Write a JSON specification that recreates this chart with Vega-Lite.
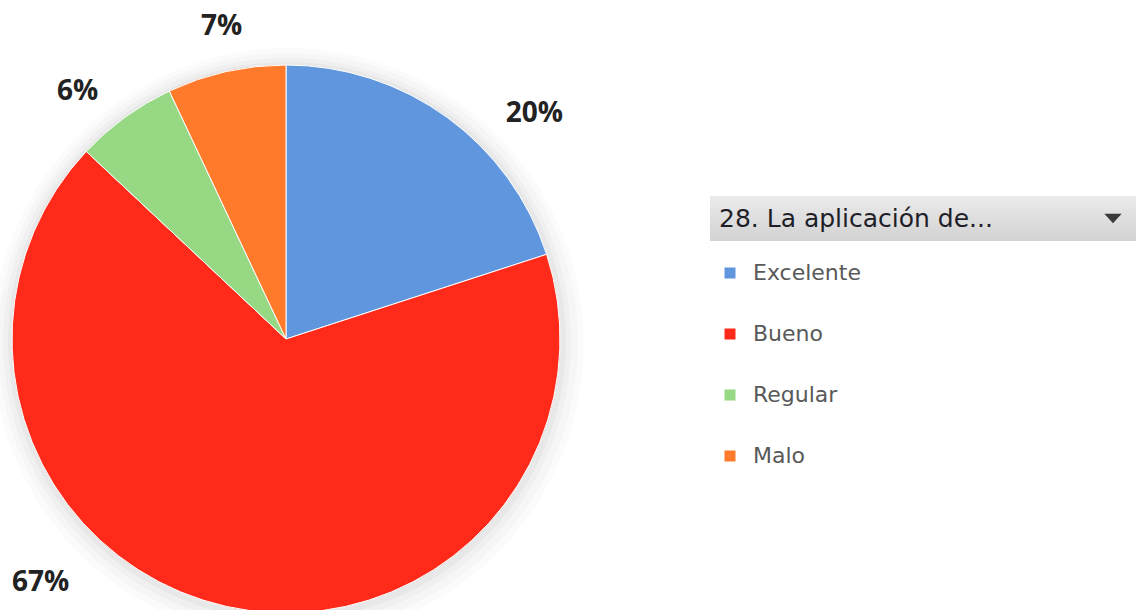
{
  "$schema": "https://vega.github.io/schema/vega-lite/v6.json",
  "width": 1136,
  "height": 610,
  "padding": 0,
  "autosize": {"type": "none"},
  "background": "white",
  "config": {"view": {"stroke": null}, "font": "DejaVu Sans"},
  "data": {
    "values": [
      {"categoria": "Excelente", "porcentaje": 20, "orden": 1},
      {"categoria": "Bueno", "porcentaje": 67, "orden": 2},
      {"categoria": "Regular", "porcentaje": 6, "orden": 3},
      {"categoria": "Malo", "porcentaje": 7, "orden": 4}
    ]
  },
  "layer": [
    {
      "data": {"values": [{"k": 1}]},
      "mark": {
        "type": "rect", "x": 710, "x2": 1136, "y": 196, "y2": 241,
        "fill": {"x1": 0, "y1": 0, "x2": 0, "y2": 1, "gradient": "linear",
          "stops": [{"offset": 0, "color": "#ebebeb"}, {"offset": 1, "color": "#d2d2d2"}]}
      },
      "encoding": {}
    },
    {
      "data": {"values": [{"k": 1}]},
      "mark": {"type": "point", "x": 1113, "y": 218, "shape": "M-1,-0.5L1,-0.5L0,0.6Z", "size": 300, "filled": true, "fill": "#3a3a3a", "strokeWidth": 0, "opacity": 1},
      "encoding": {}
    },
    {
      "data": {"values": [{"k": 1}]},
      "mark": {"type": "arc", "x": 288, "y": 344, "theta": 0, "theta2": 6.2832, "outerRadius": 296, "fill": "#000000", "opacity": 0.015},
      "encoding": {}
    },
    {
      "data": {"values": [{"k": 1}]},
      "mark": {"type": "arc", "x": 288, "y": 343, "theta": 0, "theta2": 6.2832, "outerRadius": 290, "fill": "#000000", "opacity": 0.02},
      "encoding": {}
    },
    {
      "data": {"values": [{"k": 1}]},
      "mark": {"type": "arc", "x": 287, "y": 342, "theta": 0, "theta2": 6.2832, "outerRadius": 284, "fill": "#000000", "opacity": 0.025},
      "encoding": {}
    },
    {
      "data": {"values": [{"k": 1}]},
      "mark": {"type": "arc", "x": 287, "y": 341, "theta": 0, "theta2": 6.2832, "outerRadius": 279, "fill": "#000000", "opacity": 0.03},
      "encoding": {}
    },
    {
      "mark": {"type": "arc", "x": 286, "y": 339, "outerRadius": 274, "stroke": "white", "strokeWidth": 1},
      "encoding": {
        "theta": {"field": "porcentaje", "type": "quantitative", "stack": true},
        "order": {"field": "orden", "type": "quantitative"},
        "color": {
          "field": "categoria", "type": "nominal",
          "sort": ["Excelente", "Bueno", "Regular", "Malo"],
          "scale": {"domain": ["Excelente", "Bueno", "Regular", "Malo"], "range": ["#5f96de", "#ff2a1a", "#97d884", "#ff7a2a"]},
          "legend": {
            "orient": "none", "legendX": 719, "legendY": 207,
            "title": "28. La aplicación de...",
            "titleFontSize": 25, "titleFontWeight": "normal", "titleColor": "#1e1e28", "titleLimit": 420, "titlePadding": 30,
            "labelFontSize": 22, "labelColor": "#595959", "labelOffset": 12,
            "symbolType": "square", "symbolSize": 121, "symbolStrokeWidth": 0, "symbolOpacity": 1,
            "rowPadding": 39, "padding": 0
          }
        }
      }
    },
    {
      "transform": [{"calculate": "datum.porcentaje + '%'", "as": "etiqueta"}],
      "mark": {"type": "text", "x": 286, "y": 339, "radius": 300, "dx": 72, "dy": 18, "fontSize": 28, "fontWeight": "bold", "font": "Open Sans", "color": "#222222", "align": "center", "baseline": "middle"},
      "encoding": {
        "theta": {"field": "porcentaje", "type": "quantitative", "stack": true},
        "order": {"field": "orden", "type": "quantitative"},
        "text": {"field": "etiqueta"},
        "opacity": {"condition": {"test": "datum.categoria === 'Excelente'", "value": 1}, "value": 0}
      }
    },
    {
      "transform": [{"calculate": "datum.porcentaje + '%'", "as": "etiqueta"}],
      "mark": {"type": "text", "x": 286, "y": 339, "radius": 300, "dx": -180, "dy": -49, "fontSize": 28, "fontWeight": "bold", "font": "Open Sans", "color": "#222222", "align": "center", "baseline": "middle"},
      "encoding": {
        "theta": {"field": "porcentaje", "type": "quantitative", "stack": true},
        "order": {"field": "orden", "type": "quantitative"},
        "text": {"field": "etiqueta"},
        "opacity": {"condition": {"test": "datum.categoria === 'Bueno'", "value": 1}, "value": 0}
      }
    },
    {
      "transform": [{"calculate": "datum.porcentaje + '%'", "as": "etiqueta"}],
      "mark": {"type": "text", "x": 286, "y": 339, "radius": 300, "dx": -32, "dy": -4, "fontSize": 28, "fontWeight": "bold", "font": "Open Sans", "color": "#222222", "align": "center", "baseline": "middle"},
      "encoding": {
        "theta": {"field": "porcentaje", "type": "quantitative", "stack": true},
        "order": {"field": "orden", "type": "quantitative"},
        "text": {"field": "etiqueta"},
        "opacity": {"condition": {"test": "datum.categoria === 'Regular'", "value": 1}, "value": 0}
      }
    },
    {
      "transform": [{"calculate": "datum.porcentaje + '%'", "as": "etiqueta"}],
      "mark": {"type": "text", "x": 286, "y": 339, "radius": 300, "dx": 1, "dy": -19, "fontSize": 28, "fontWeight": "bold", "font": "Open Sans", "color": "#222222", "align": "center", "baseline": "middle"},
      "encoding": {
        "theta": {"field": "porcentaje", "type": "quantitative", "stack": true},
        "order": {"field": "orden", "type": "quantitative"},
        "text": {"field": "etiqueta"},
        "opacity": {"condition": {"test": "datum.categoria === 'Malo'", "value": 1}, "value": 0}
      }
    }
  ]
}
